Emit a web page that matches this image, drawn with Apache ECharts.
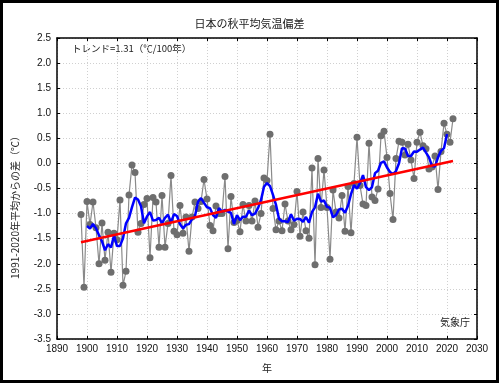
<!DOCTYPE html>
<html><head><meta charset="utf-8">
<script src="https://cdn.jsdelivr.net/npm/echarts@6/dist/echarts.min.js"></script>
<style>html,body{margin:0;padding:0;background:#fff}#c{width:499px;height:383px}</style>
</head><body><div id="c"></div>
<script>
var startYear = 1898;
var anomalies = [
 -1.02,-2.47,-0.76,-1.22,-0.77,-1.28,-2.00,-1.19,-1.93,-1.37,
 -2.17,-1.39,-1.52,-0.73,-2.43,-2.15,-0.63,-0.03,-0.18,-1.37,
 -1.20,-0.82,-0.70,-1.88,-0.68,-0.77,-1.67,-0.64,-1.67,-1.20,
 -0.24,-1.35,-1.42,-0.84,-1.39,-1.07,-1.75,-1.07,-0.77,-0.90,
 -0.76,-0.32,-0.71,-1.24,-1.34,-0.85,-1.00,-1.00,-0.26,-1.70,
 -0.66,-1.18,-1.14,-1.36,-0.82,-1.15,-0.84,-1.15,-0.75,-1.27,
 -1.00,-0.29,-0.34,0.58,-0.90,-1.32,-1.15,-1.34,-0.81,-1.15,
 -1.32,-1.22,-0.56,-1.45,-0.97,-1.34,-1.49,-0.09,-2.02,0.10,
 -0.88,-0.13,-0.88,-1.91,-0.53,-0.97,-1.09,-0.64,-1.35,-0.46,
 -1.38,-0.40,0.52,-0.44,-0.81,-0.84,0.40,-0.67,-0.74,-0.51,
 0.55,0.64,0.12,-0.60,-1.12,0.10,0.44,0.42,0.17,0.38,
 0.07,-0.30,0.42,0.62,0.35,0.29,-0.11,-0.07,0.15,-0.52,
 0.24,0.80,0.58,0.42,0.89
];
var trendYears = [1898, 2022];
var trendValues = [-1.57, 0.05];
var xTicks = {min:1890, max:2030, step:10};
var yTicks = {min:-3.5, max:2.5, step:0.5};

var years = anomalies.map(function(_, i){ return startYear + i; });
var raw = years.map(function(y, i){ return [y, anomalies[i]]; });
var smooth = [];
for (var i = 2; i < anomalies.length - 2; i++) {
  var s = 0; for (var k = -2; k <= 2; k++) s += anomalies[i+k];
  smooth.push([years[i], s/5]);
}
var trend = trendYears.map(function(y,i){ return [y, trendValues[i]]; });

var FONT = '"Noto Sans CJK JP"';
var NUMF = '"Liberation Sans"';
var chart = echarts.init(document.getElementById('c'), null, {renderer:'canvas'});
var gridLine = {show:true, lineStyle:{color:'#d0d0d0', type:[1,2], width:1}};
chart.setOption({
  animation:false,
  backgroundColor:'#fff',
  title:{text:'日本の秋平均気温偏差', left:'center', top:13, itemGap:0,
    textStyle:{fontFamily:FONT, fontSize:11, fontWeight:'normal', color:'#222'}},
  grid:{left:57, right:22, top:38, bottom:44},
  xAxis:[{type:'value', min:xTicks.min, max:xTicks.max, interval:xTicks.step,
    name:'年', nameLocation:'middle', nameGap:24,
    nameTextStyle:{fontFamily:FONT, fontSize:10, color:'#222'},
    axisLine:{show:true, onZero:false, lineStyle:{color:'#000', width:1.5}},
    axisTick:{show:true, inside:true, length:3, lineStyle:{color:'#000'}},
    axisLabel:{fontFamily:NUMF, fontSize:10, color:'#111', margin:5,
      formatter:function(v){return String(v);}},
    splitLine:gridLine},
   {type:'value', position:'top', min:xTicks.min, max:xTicks.max, interval:xTicks.step,
    axisLine:{show:true, onZero:false, lineStyle:{color:'#000', width:1.5}},
    axisTick:{show:true, inside:true, length:3, lineStyle:{color:'#000'}},
    axisLabel:{show:false}, splitLine:{show:false}}],
  yAxis:[{type:'value', min:yTicks.min, max:yTicks.max, interval:yTicks.step,
    axisLine:{show:true, onZero:false, lineStyle:{color:'#000', width:1.5}},
    axisTick:{show:true, inside:true, length:3, lineStyle:{color:'#000'}},
    axisLabel:{fontFamily:NUMF, fontSize:10, color:'#111', margin:6,
      formatter:function(v){return v.toFixed(1);}},
    splitLine:gridLine},
   {type:'value', position:'right', min:yTicks.min, max:yTicks.max, interval:yTicks.step,
    axisLine:{show:true, onZero:false, lineStyle:{color:'#000', width:1.5}},
    axisTick:{show:true, inside:true, length:3, lineStyle:{color:'#000'}},
    axisLabel:{show:false}, splitLine:{show:false}}],
  graphic:[
    {type:'rect', shape:{x:1.5,y:1.5,width:496,height:380}, style:{fill:'none', stroke:'#000', lineWidth:3}},
    {type:'text', left:72, top:44, style:{text:'トレンド=1.31（℃/100年）', font:'9.5px '+FONT, fill:'#222'}},
    {type:'text', left:440, top:317, style:{text:'気象庁', font:'10px '+FONT, fill:'#222'}},
    {type:'text', x:15, y:205, rotation:Math.PI/2, style:{text:'1991-2020年平均からの差（℃）', font:'10px '+FONT, fill:'#222', align:'center', verticalAlign:'middle'}}
  ],
  series:[
    {type:'line', data:raw, symbol:'circle', symbolSize:7, showSymbol:true,
      itemStyle:{color:'#6e6e6e'}, lineStyle:{color:'#8a8a8a', width:1.2}, z:2},
    {type:'line', data:smooth, symbol:'none', lineStyle:{color:'#0000ff', width:2.5}, z:3},
    {type:'line', data:trend, symbol:'none', lineStyle:{color:'#ff0000', width:2.5}, z:4}
  ]
});
</script></body></html>
